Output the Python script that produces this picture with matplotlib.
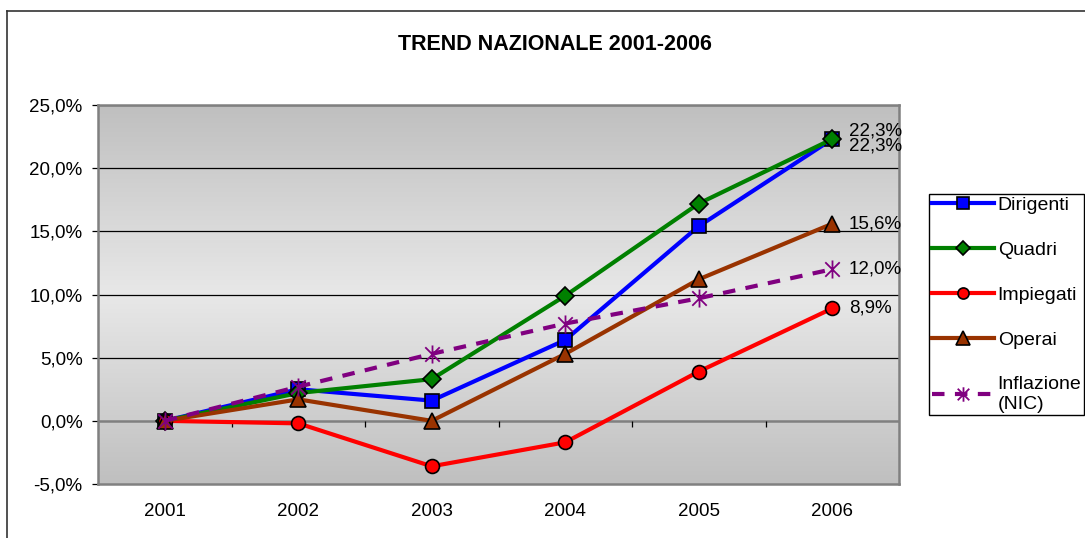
import numpy as np
import matplotlib
matplotlib.use("Agg")
import matplotlib.pyplot as plt
from matplotlib.path import Path
from matplotlib.lines import Line2D
from matplotlib.ticker import FuncFormatter

plt.rcParams['font.family'] = ['Liberation Sans', 'DejaVu Sans']

anni = ['2001', '2002', '2003', '2004', '2005', '2006']
dirigenti = [0.0, 2.5, 1.6, 6.4, 15.4, 22.3]
quadri = [0.0, 2.2, 3.3, 9.9, 17.2, 22.3]
impiegati = [0.0, -0.2, -3.6, -1.7, 3.9, 8.9]
operai = [0.0, 1.7, 0.0, 5.3, 11.2, 15.6]
inflazione = [0.0, 2.7, 5.3, 7.7, 9.7, 12.0]

W, H = 1085, 538
fig = plt.figure(figsize=(W / 100, H / 100), dpi=100)

# cornice esterna del grafico
fig.add_artist(Line2D([7 / W, 7 / W], [0, 1 - 11 / H], transform=fig.transFigure, color='#333333', lw=1.2))
fig.add_artist(Line2D([7 / W, 1], [1 - 11 / H, 1 - 11 / H], transform=fig.transFigure, color='#333333', lw=1.2))

fig.text(555 / W, 1 - 44 / H, 'TREND NAZIONALE 2001-2006', ha='center', va='center',
         fontsize=15.5, fontweight='bold')

ax = fig.add_axes([98 / W, 1 - 484 / H, (899 - 98) / W, (484 - 105) / H])
xs = np.arange(len(anni))
ax.set_xlim(-0.5, 5.5)
ax.set_ylim(-5, 25)

# sfondo sfumato (scuro sopra e sotto, chiaro al centro)
t = np.linspace(0, 1, 256)
shade = 0.75 + 0.16 * (1 - np.abs(2 * t - 1))
grad = np.dstack([shade, shade, shade])[0][:, None, :]
ax.imshow(grad, extent=[0, 1, 0, 1], transform=ax.transAxes, aspect='auto', zorder=0, origin='lower')

for v in [5, 10, 15, 20, 25]:
    ax.axhline(v, color='black', lw=0.9, zorder=1)
ax.axhline(0, color='#808080', lw=1.8, zorder=1)
ax.vlines(xs[:-1] + 0.5, -0.45, 0, color='black', lw=0.9, zorder=1)

for s in ax.spines.values():
    s.set_color('#808080')
    s.set_linewidth(1.8)

ast = Path([(0, -1), (0, 1), (-0.8, -0.8), (0.8, 0.8), (-0.8, 0.8), (0.8, -0.8)],
           [Path.MOVETO, Path.LINETO, Path.MOVETO, Path.LINETO, Path.MOVETO, Path.LINETO])

ax.plot(xs, dirigenti, color='#0000FF', lw=3, marker='s', ms=10, mfc='#0000FF', mec='black', mew=1.2,
        label='Dirigenti', zorder=3)
ax.plot(xs, quadri, color='#008000', lw=3, marker='D', ms=9, mfc='#008000', mec='black', mew=1.2,
        label='Quadri', zorder=3)
ax.plot(xs, impiegati, color='#FF0000', lw=3, marker='o', ms=10, mfc='#FF0000', mec='black', mew=1.2,
        label='Impiegati', zorder=3)
ax.plot(xs, operai, color='#993300', lw=3, marker='^', ms=12, mfc='#993300', mec='black', mew=1.2,
        label='Operai', zorder=3)
ax.plot(xs, inflazione, color='#800080', lw=3, ls=(0, (3, 2.5)), marker=ast, ms=13, mec='#800080',
        mew=1.3, label='Inflazione\n(NIC)', zorder=3)

# etichette sul 2006
def fmt(v):
    return ('%.1f%%' % v).replace('.', ',')

last = len(anni) - 1
for serie, dy in [(dirigenti, 6), (quadri, -5), (operai, 0), (inflazione, 0), (impiegati, 0)]:
    ax.annotate(fmt(serie[last]), (xs[last], serie[last]), xytext=(12, dy), textcoords='offset points',
                ha='left', va='center', fontsize=13.5, annotation_clip=False)

ax.set_xticks(xs)
ax.set_xticklabels(anni)
ax.tick_params(axis='x', length=0, pad=14, labelsize=13.5)
ax.set_yticks(np.arange(-5, 26, 5))
ax.yaxis.set_major_formatter(FuncFormatter(lambda v, p: fmt(v)))
ax.tick_params(axis='y', length=4, width=0.9, color='black', pad=7, labelsize=13.5)

leg = ax.legend(loc='upper left', bbox_to_anchor=(919 / W, 1 - 184 / H), bbox_transform=fig.transFigure,
                fontsize=14, frameon=True, fancybox=False, edgecolor='black', framealpha=1,
                handlelength=3.2, handletextpad=0.2, labelspacing=1.4, borderpad=0.15, markerscale=0.8)
leg.get_frame().set_linewidth(1.0)

fig.savefig('out.png', dpi=100)
